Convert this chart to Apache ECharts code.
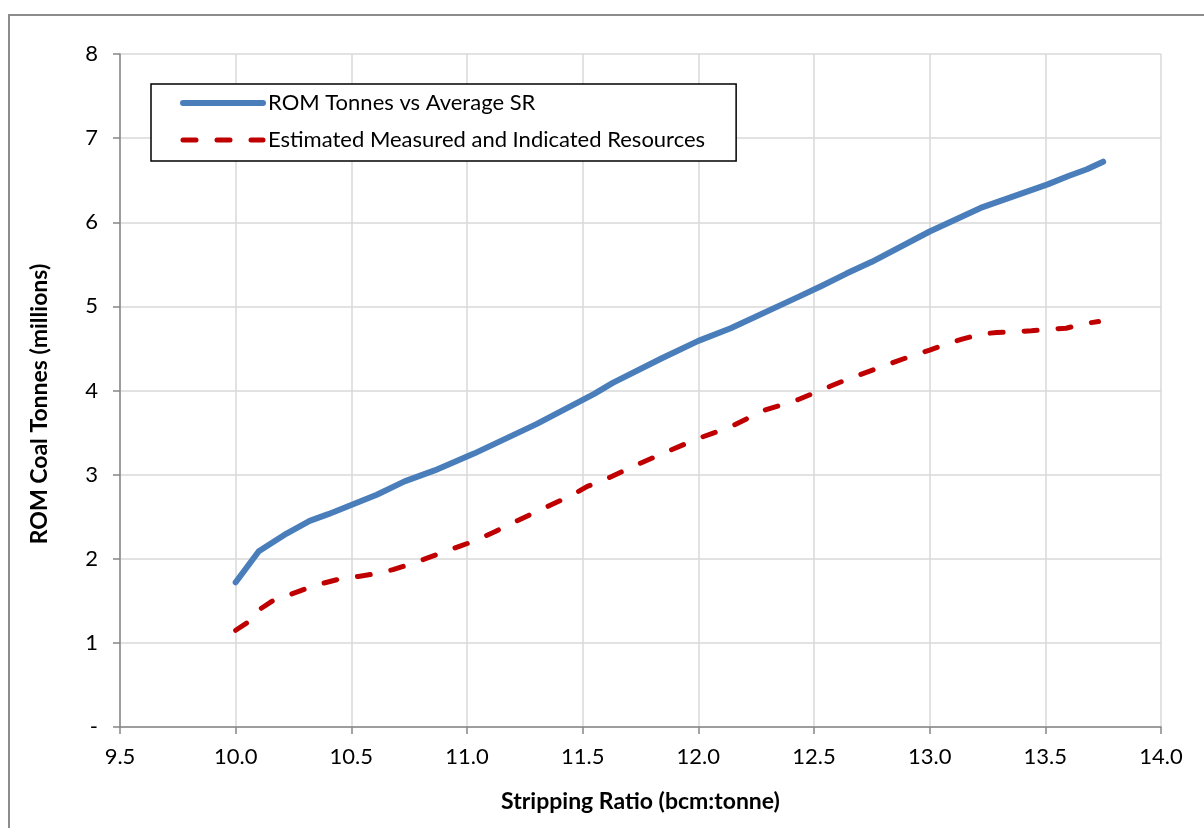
<!DOCTYPE html>
<html>
<head>
<meta charset="utf-8">
<script src="https://cdn.jsdelivr.net/npm/echarts@6/dist/echarts.min.js"></script>
<style>
html,body{margin:0;padding:0;background:#fff;}
#chart{width:1204px;height:828px;}
</style>
</head>
<body>
<div id="chart"></div>
<script>
// Data
const seriesNames = ['ROM Tonnes vs Average SR', 'Estimated Measured and Indicated Resources'];
const romSR = [10.00,10.03,10.10,10.22,10.32,10.40,10.61,10.73,10.86,11.03,11.30,11.55,11.63,11.84,12.00,12.14,12.43,12.53,12.64,12.75,13.00,13.22,13.51,13.60,13.68,13.75];
const romTonnes = [1.72,1.83,2.09,2.30,2.45,2.53,2.76,2.92,3.05,3.25,3.60,3.96,4.09,4.38,4.59,4.74,5.11,5.24,5.39,5.53,5.89,6.17,6.45,6.55,6.63,6.72];
const resSR = [10.00,10.05,10.11,10.16,10.24,10.31,10.38,10.45,10.53,10.60,10.68,10.76,10.83,10.89,10.97,11.04,11.12,11.17,11.30,11.45,11.52,11.58,11.72,11.87,12.00,12.14,12.28,12.43,12.57,12.65,12.75,12.85,12.93,13.00,13.07,13.14,13.22,13.29,13.37,13.44,13.52,13.59,13.66,13.73];
const resTonnes = [1.15,1.24,1.41,1.50,1.58,1.65,1.71,1.76,1.79,1.82,1.87,1.94,2.01,2.07,2.15,2.22,2.32,2.39,2.56,2.75,2.86,2.92,3.10,3.28,3.43,3.57,3.76,3.89,4.05,4.14,4.24,4.34,4.42,4.48,4.55,4.61,4.67,4.69,4.70,4.71,4.73,4.74,4.79,4.82];
const xTicks = {min: 9.5, max: 14.0, step: 0.5};
const yTicks = {min: 0, max: 8, step: 1};
const xTitle = 'Stripping Ratio (bcm:tonne)';
const yTitle = 'ROM Coal Tonnes (millions)';

const FONT = 'Lato';
const blue = '#4a7ebb';
const red = '#c00000';
const dash = [13, 21];

const chart = echarts.init(document.getElementById('chart'));
chart.setOption({
  animation: false,
  backgroundColor: '#fff',
  textStyle: {fontFamily: FONT},
  grid: {left: 120, top: 54, right: 43, bottom: 101, containLabel: false},
  graphic: [
    {type: 'rect', shape: {x: 9, y: 15, width: 1210, height: 840}, style: {fill: 'none', stroke: '#8c8c8c', lineWidth: 2}, silent: true, z: -1},
    {type: 'text', x: 40, y: 404, rotation: Math.PI / 2,
     style: {text: yTitle, fontFamily: FONT, fontWeight: 'bold', fontSize: 23, fill: '#000', align: 'center', verticalAlign: 'middle'}}
  ],
  legend: {
    orient: 'vertical', left: 151, top: 84,
    padding: [8, 31, 10, 29], itemGap: 15, itemWidth: 80, itemHeight: 14,
    borderColor: '#000', borderWidth: 1.5, backgroundColor: '#fff',
    textStyle: {fontFamily: FONT, fontSize: 22, color: '#000'},
    data: [
      {name: seriesNames[0], itemStyle: {opacity: 0}, lineStyle: {width: 6, color: blue, cap: 'round'}},
      {name: seriesNames[1], itemStyle: {opacity: 0}, lineStyle: {width: 5, color: red, type: dash, cap: 'round'}}
    ]
  },
  xAxis: {
    type: 'value', min: xTicks.min, max: xTicks.max, interval: xTicks.step,
    name: xTitle, nameLocation: 'middle', nameGap: 63,
    nameTextStyle: {fontFamily: FONT, fontWeight: 'bold', fontSize: 23, color: '#000'},
    axisLine: {show: true, onZero: false, lineStyle: {color: '#868686', width: 1.5}},
    axisTick: {show: true, length: 7, lineStyle: {color: '#868686', width: 1.5}},
    axisLabel: {fontFamily: FONT, fontSize: 22, color: '#000', margin: 19, formatter: v => v.toFixed(1)},
    splitLine: {show: true, lineStyle: {color: '#d9d9d9', width: 1.5}}
  },
  yAxis: {
    type: 'value', min: yTicks.min, max: yTicks.max, interval: yTicks.step,
    axisLine: {show: true, lineStyle: {color: '#868686', width: 1.5}},
    axisTick: {show: true, length: 7, lineStyle: {color: '#868686', width: 1.5}},
    axisLabel: {fontFamily: FONT, fontSize: 22, color: '#000', margin: 22, formatter: v => v === 0 ? '-' : String(v)},
    splitLine: {show: true, lineStyle: {color: '#d9d9d9', width: 1.5}}
  },
  series: [
    {name: seriesNames[0], type: 'line', symbol: 'none', showSymbol: false, z: 3,
     data: romSR.map((x, i) => [x, romTonnes[i]]),
     lineStyle: {width: 6, color: blue, cap: 'round', join: 'round'}, itemStyle: {color: blue}},
    {name: seriesNames[1], type: 'line', symbol: 'none', showSymbol: false, z: 2,
     data: resSR.map((x, i) => [x, resTonnes[i]]),
     lineStyle: {width: 5, color: red, type: dash, cap: 'round', join: 'round'}, itemStyle: {color: red}}
  ]
});
</script>
</body>
</html>
